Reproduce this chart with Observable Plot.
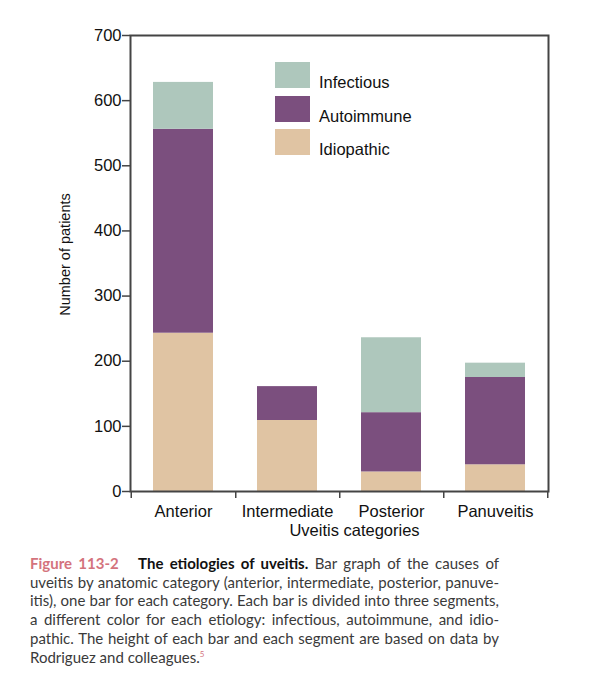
<!DOCTYPE html>
<html><head><meta charset="utf-8">
<script src="https://cdn.jsdelivr.net/npm/d3@7"></script>
<script src="https://cdn.jsdelivr.net/npm/@observablehq/plot@0.6"></script>
<style>
body{margin:0;background:#fff;}
#wrap{position:relative;width:600px;}
#chart svg{display:block;}
#legend{position:absolute;left:275px;top:62px;font-family:"Liberation Sans",Arial,sans-serif;font-size:16.5px;color:#111;}
.item{position:relative;height:26px;margin-bottom:7.5px;width:160px;}
.sw{position:absolute;left:0;top:0;width:35px;height:26px;}
.lab{position:absolute;left:44px;top:11px;line-height:18px;white-space:nowrap;}
#caption{margin:9px 0 0 30px;width:469px;font-family:Lato,"Open Sans",sans-serif;font-size:15px;line-height:18.7px;color:#3a3a3a;}
.ln{text-align:justify;text-align-last:justify;white-space:nowrap;}
.ln.last{text-align-last:left;}
.fig{color:#d4737d;font-weight:bold;}
.ttl{color:#111;font-weight:bold;}
sup{font-size:8px;color:#d4737d;vertical-align:6px;line-height:0;}
</style>
</head><body>
<div id="wrap">
  <div id="chart"></div>
  <div id="legend"></div>
  <div id="caption">
    <div class="ln"><span class="fig">Figure 113-2</span>&nbsp;&nbsp; <span class="ttl">The etiologies of uveitis.</span> Bar graph of the causes of</div>
    <div class="ln">uveitis by anatomic category (anterior, intermediate, posterior, panuve-</div>
    <div class="ln">itis), one bar for each category. Each bar is divided into three segments,</div>
    <div class="ln">a different color for each etiology: infectious, autoimmune, and idio-</div>
    <div class="ln">pathic. The height of each bar and each segment are based on data by</div>
    <div class="ln last">Rodriguez and colleagues.<sup>5</sup></div>
  </div>
</div>
<script>
const categories = ["Anterior", "Intermediate", "Posterior", "Panuveitis"];
const idiopathic = [243, 109, 30, 41];
const autoimmune = [313, 52, 91, 134];
const infectious = [72, 0, 115, 22];
const etiologies = ["Infectious", "Autoimmune", "Idiopathic"];
const colors = ["#aec7bc", "#7b4f7e", "#e0c4a3"];
const yTicks = [0, 100, 200, 300, 400, 500, 600, 700];
const xLabel = "Uveitis categories";
const yLabel = "Number of patients";

const rows = categories.flatMap((c, i) => [
  {category: c, etiology: "Idiopathic", value: idiopathic[i]},
  {category: c, etiology: "Autoimmune", value: autoimmune[i]},
  {category: c, etiology: "Infectious", value: infectious[i]}
]);

const W = 600, H = 545, ML = 130, MR = 52, MT = 35, MB = 54;
const step = (W - ML - MR) / categories.length;

const chart = Plot.plot({
  width: W, height: H,
  marginLeft: ML, marginRight: MR, marginTop: MT, marginBottom: MB,
  style: {fontFamily: "'Liberation Sans', Arial, sans-serif", fontSize: "16.5px", color: "#111", background: "#fff"},
  x: {type: "band", domain: categories, paddingInner: 0.42, paddingOuter: 0.21, axis: null},
  y: {domain: [0, 700], axis: null},
  color: {domain: etiologies, range: colors},
  marks: [
    Plot.barY(rows, {x: "category", y: "value", fill: "etiology", order: null}),
    Plot.frame({stroke: "#444", strokeWidth: 2}),
    Plot.axisY({ticks: yTicks, tickSize: 8, tickPadding: 1, fontSize: 16.5, stroke: "#444", strokeWidth: 1.5, label: null}),
    Plot.text([yLabel], {frameAnchor: "left", textAnchor: "middle", lineAnchor: "middle", dx: -65, dy: -9, rotate: -90, fontSize: 14.5, fill: "#111"}),
    Plot.axisX({tickSize: 0, tickPadding: 14, fontSize: 16.5, label: null}),
    Plot.axisX({tickSize: 7, text: null, dx: step / 2, label: null, stroke: "#444", strokeWidth: 1.5}),
    Plot.axisX([categories[0]], {tickSize: 7, text: null, dx: -step / 2, label: null, stroke: "#444", strokeWidth: 1.5}),
    Plot.text([xLabel], {frameAnchor: "bottom", lineAnchor: "middle", dy: 39, dx: 15, fontSize: 16.5, fill: "#111"})
  ]
});
document.getElementById("chart").appendChild(chart);

const legend = document.getElementById("legend");
etiologies.forEach((e, i) => {
  const item = document.createElement("div");
  item.className = "item";
  item.innerHTML = `<div class="sw" style="background:${colors[i]}"></div><div class="lab">${e}</div>`;
  legend.appendChild(item);
});
</script>
</body></html>
